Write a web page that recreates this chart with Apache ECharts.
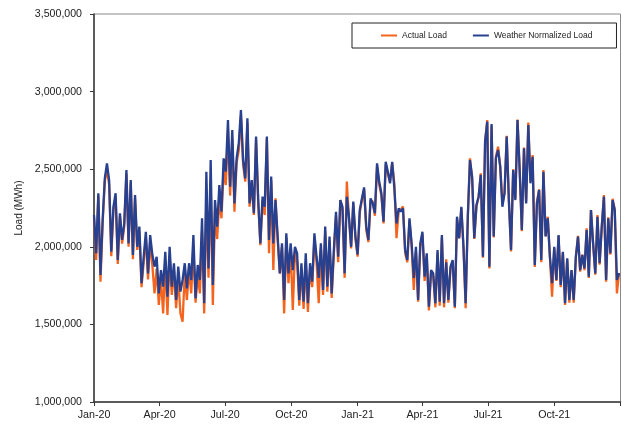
<!DOCTYPE html>
<html>
<head>
<meta charset="utf-8">
<script src="https://cdn.jsdelivr.net/npm/echarts@6.0.0/dist/echarts.min.js"></script>
<style>
  html, body { margin: 0; padding: 0; background: #fff; }
  #chart { width: 622px; height: 425px; }
</style>
</head>
<body>
<div id="chart"></div>
<script>
// one reading every 3 days, starting 1 Jan 2020
const stepDays = 3;

// quarter boundaries (day number from 1 Jan 2020) and their labels
const quarterDays = [0, 91, 182, 274, 366, 456, 547, 639, 731];
const quarterLabels = ['Jan-20', 'Apr-20', 'Jul-20', 'Oct-20', 'Jan-21', 'Apr-21', 'Jul-21', 'Oct-21', ''];

// load, thousand MWh
const actualLoad = [
  2190, 1915, 2330, 1775, 2150, 2420, 2500, 2400, 1940, 2240, 2320,   // Jan-20
  1890, 2200, 2020, 2130, 2470, 2000, 2410, 1920, 2310, 1980,         // Feb-20
  2100, 1740, 1900, 2060, 1790, 2030, 1880, 1700, 1860, 1625,         // Mar-20
  1790, 1571, 1900, 1561, 1940, 1690, 1850, 1604, 1800, 1571,         // Apr-20
  1517, 1830, 1657, 1860, 1700, 2000, 1640, 1820, 1700, 2100, 1571,   // May-20
  2300, 1800, 2420, 1625, 2230, 2050, 2300, 2184, 2500, 2398,         // Jun-20
  2750, 2330, 2700, 2226, 2540, 2620, 2840, 2530, 2420, 2800, 2258,   // Jul-20
  2400, 2205, 2690, 2280, 2010, 2300, 2205, 2700, 1958, 2430,         // Aug-20
  1850, 2312, 2044, 1829, 2000, 1571, 2060, 1765, 1990, 1593,         // Sep-20
  1960, 1900, 1620, 1850, 1600, 1900, 1580, 1860, 1740, 2060, 1900,   // Oct-20
  1636, 1990, 1690, 2100, 1710, 2040, 1670, 1950, 2200, 1900,         // Nov-20
  2301, 2240, 1800, 2420, 2180, 1990, 2280, 2050, 1936, 2220, 2300,   // Dec-20
  2370, 2110, 2030, 2300, 2290, 2200, 2520, 2400, 2330, 2150,         // Jan-21
  2530, 2470, 2420, 2540, 2409, 2055, 2230, 2240, 2260, 1960,         // Feb-21
  1900, 2170, 2000, 1722, 1970, 1646, 2000, 2080, 1780, 1940, 1590,   // Mar-21
  1830, 1810, 1610, 1960, 1620, 2060, 1610, 1920, 1640, 1860,         // Apr-21
  1905, 1604, 2180, 2055, 2250, 1990, 1604, 2190, 2570, 2440, 2050,   // May-21
  2260, 2320, 2473, 1930, 2680, 2817, 1860, 2780, 2060, 2580,         // Jun-21
  2645, 2520, 2280, 2350, 2715, 2300, 1970, 2500, 2310, 2820,         // Jul-21
  2500, 2100, 2640, 2290, 2800, 2420, 2591, 1870, 2290, 2370, 1900,   // Aug-21
  2495, 2070, 2194, 1930, 1678, 1990, 1780, 2070, 1740, 1960,         // Sep-21
  1625, 1920, 1640, 1850, 1640, 1930, 2070, 1840, 1950, 1850, 2119,   // Oct-21
  1800, 2237, 2015, 1820, 2205, 1885, 2130, 2334, 1775, 2190,         // Nov-21
  1950, 2310, 2240, 1700, 1830                                        // Dec-21
];

const normalizedLoad = [
  2205, 1958, 2345, 1818, 2173, 2441, 2538, 2430, 1968, 2258, 2345,
  1915, 2216, 2044, 2151, 2495, 2022, 2430, 1947, 2334, 2000,
  2130, 1765, 1936, 2097, 1829, 2076, 1950, 1872, 1936, 1700,
  1850, 1743, 1968, 1678, 2000, 1743, 1894, 1657, 1872, 1711,
  1786, 1894, 1732, 1894, 1786, 2076, 1668, 1883, 1786, 2184, 1636,
  2484, 1861, 2559, 1754, 2301, 2130, 2398, 2226, 2570, 2484,
  2817, 2387, 2752, 2280, 2570, 2667, 2881, 2559, 2441, 2828, 2280,
  2430, 2216, 2710, 2301, 2022, 2323, 2258, 2710, 2044, 2452,
  2022, 2301, 2066, 1829, 2022, 1657, 2087, 1829, 2022, 1850,
  2000, 1958, 1657, 1894, 1646, 1958, 1636, 1894, 1775, 2087, 1936,
  1800, 2022, 1722, 2130, 1743, 2066, 1700, 1979, 2226, 1936,
  2301, 2258, 1829, 2323, 2194, 2000, 2291, 2066, 1950, 2237, 2312,
  2383, 2130, 2044, 2312, 2280, 2216, 2538, 2420, 2345, 2162,
  2548, 2484, 2409, 2548, 2377, 2150, 2248, 2226, 2248, 1979,
  1915, 2184, 2022, 1800, 2000, 1657, 2022, 2097, 1807, 1958, 1614,
  1850, 1829, 1636, 1979, 1646, 2076, 1636, 1900, 1657, 1872,
  1915, 1614, 2194, 2055, 2258, 2000, 1636, 2194, 2559, 2452, 2055,
  2269, 2323, 2463, 1936, 2677, 2806, 1872, 2791, 2066, 2570,
  2624, 2516, 2258, 2345, 2710, 2301, 1979, 2495, 2301, 2817,
  2495, 2108, 2634, 2280, 2785, 2409, 2580, 1883, 2280, 2366, 1915,
  2484, 2066, 2184, 1936, 1765, 2000, 1786, 2076, 1754, 1968,
  1636, 1926, 1657, 1850, 1657, 1936, 2066, 1850, 1947, 1861, 2108,
  1807, 2237, 2022, 1829, 2194, 1894, 2130, 2323, 1786, 2184,
  1958, 2301, 2237, 1786, 1830
];

const toPoints = (arr) => arr.map((v, i) => [i * stepDays, v * 1000]);

const axisColor = '#3a3a3a';
const textColor = '#222';

const chart = echarts.init(document.getElementById('chart'), null, { renderer: 'canvas' });

chart.setOption({
  animation: false,
  textStyle: { fontFamily: 'Liberation Sans, Arial, sans-serif' },
  grid: {
    left: 94, right: 1.5, top: 14, bottom: 23,
    show: true, borderColor: '#8a8a8a', borderWidth: 1,
    outerBoundsMode: 'none'
  },
  legend: {
    data: ['Actual Load', 'Weather Normalized Load'],
    orient: 'horizontal',
    left: 352, top: 23,
    width: 212,
    padding: [8, 24, 8, 29],
    itemGap: 26, itemWidth: 16, itemHeight: 2,
    icon: 'rect',
    borderColor: '#222', borderWidth: 1,
    textStyle: { fontSize: 8.5, color: textColor }
  },
  xAxis: {
    type: 'value',
    min: 0, max: 731,
    axisLine: { lineStyle: { color: axisColor, width: 1.5 } },
    axisTick: { customValues: quarterDays, length: 4, lineStyle: { color: axisColor } },
    axisLabel: {
      customValues: quarterDays,
      formatter: (v) => quarterLabels[quarterDays.indexOf(v)],
      fontSize: 10.7, color: textColor, margin: 8
    },
    splitLine: { show: false }
  },
  yAxis: {
    type: 'value',
    min: 1000000, max: 3500000, interval: 500000,
    name: 'Load (MWh)',
    nameLocation: 'middle',
    nameGap: 70,
    nameTextStyle: { fontSize: 10, color: textColor },
    axisLine: { show: true, lineStyle: { color: axisColor, width: 1.5 } },
    axisTick: { show: true, length: 4, lineStyle: { color: axisColor } },
    axisLabel: {
      formatter: (v) => v.toLocaleString('en-US'),
      fontSize: 10.6, color: textColor, margin: 12
    },
    splitLine: { show: false }
  },
  series: [
    {
      name: 'Actual Load',
      type: 'line',
      symbol: 'none',
      data: toPoints(actualLoad),
      lineStyle: { color: '#f4641f', width: 2.3 },
      itemStyle: { color: '#f4641f' },
      emphasis: { disabled: true }
    },
    {
      name: 'Weather Normalized Load',
      type: 'line',
      symbol: 'none',
      data: toPoints(normalizedLoad),
      lineStyle: { color: '#27408f', width: 2.3 },
      itemStyle: { color: '#27408f' },
      emphasis: { disabled: true }
    }
  ]
});
</script>
</body>
</html>
